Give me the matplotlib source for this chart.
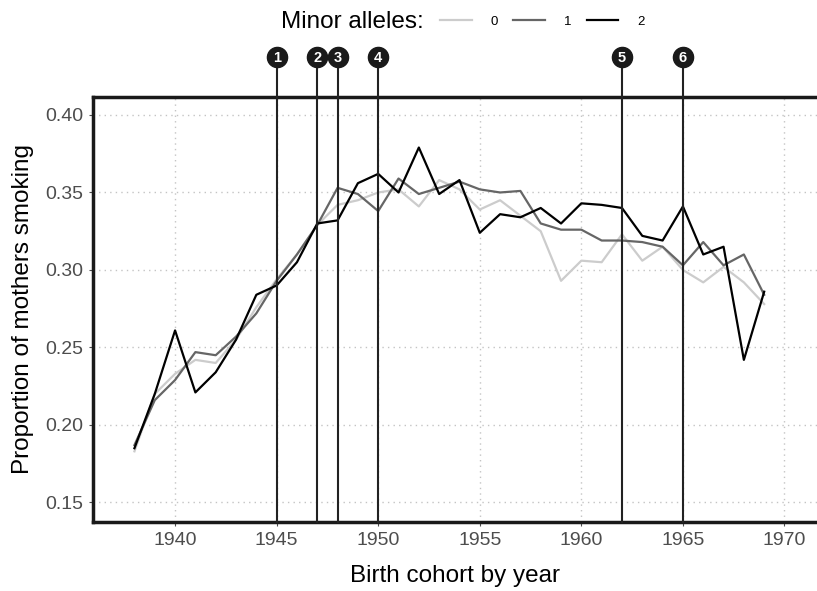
import numpy as np
import matplotlib
matplotlib.use('Agg')
from matplotlib import pyplot as plt
import matplotlib.transforms as mtransforms

# Birth cohort years
years = list(range(1938, 1970))

# Proportion of mothers smoking, by number of minor alleles
smoke_0 = [0.183, 0.220, 0.233, 0.242, 0.240, 0.255, 0.276, 0.294, 0.310, 0.329,
           0.342, 0.345, 0.350, 0.352, 0.341, 0.358, 0.352, 0.339, 0.345, 0.335,
           0.325, 0.293, 0.306, 0.305, 0.323, 0.306, 0.315, 0.300, 0.292, 0.302,
           0.292, 0.278]
smoke_1 = [0.187, 0.216, 0.229, 0.247, 0.245, 0.257, 0.272, 0.293, 0.310, 0.329,
           0.353, 0.349, 0.338, 0.359, 0.349, 0.353, 0.357, 0.352, 0.350, 0.351,
           0.330, 0.326, 0.326, 0.319, 0.319, 0.318, 0.315, 0.303, 0.318, 0.303,
           0.310, 0.284]
smoke_2 = [0.185, 0.220, 0.261, 0.221, 0.234, 0.255, 0.284, 0.290, 0.305, 0.330,
           0.332, 0.356, 0.362, 0.350, 0.379, 0.349, 0.358, 0.324, 0.336, 0.334,
           0.340, 0.330, 0.343, 0.342, 0.340, 0.322, 0.319, 0.341, 0.310, 0.315,
           0.242, 0.286]

series_labels = ['0', '1', '2']
series_colors = ['#cccccc', '#666666', '#000000']

# Annotated event years
event_years = [1945, 1947, 1948, 1950, 1962, 1965]
event_labels = ['1', '2', '3', '4', '5', '6']

x_ticks = [1940, 1945, 1950, 1955, 1960, 1965, 1970]
y_ticks = [0.15, 0.20, 0.25, 0.30, 0.35, 0.40]

plt.rcParams['font.family'] = ['Liberation Sans', 'DejaVu Sans']

fig = plt.figure(figsize=(8.17, 5.91), dpi=100)
ax = fig.add_axes([93/817, 1 - 522/591, 1 - 93/817, (522 - 97)/591])

handles = []
for vals, lab, col in zip([smoke_0, smoke_1, smoke_2], series_labels, series_colors):
    h, = ax.plot(years, vals, color=col, lw=1.6, label=lab, zorder=3)
    handles.append(h)

# vertical event lines with numbered circles above the panel
trans = mtransforms.blended_transform_factory(ax.transData, ax.transAxes)
for yr, lab in zip(event_years, event_labels):
    ax.plot([yr, yr], [0, 1.094], color='#222222', lw=1.5, transform=trans,
            clip_on=False, zorder=4)
    ax.plot(yr, 1.094, 'o', ms=14.5, color='#1a1a1a', transform=trans,
            clip_on=False, zorder=5)
    ax.text(yr, 1.092, lab, color='white', fontsize=10.5, fontweight='bold',
            ha='center', va='center', transform=trans, zorder=6)

ax.set_xlim(1935.96, 1971.6)
ax.set_ylim(0.1374, 0.4116)
ax.set_xticks(x_ticks)
ax.set_yticks(y_ticks)
ax.set_yticklabels(['%.2f' % v for v in y_ticks])
ax.grid(True, color='#c4c4c4', ls=(0, (1, 3)), lw=1)
ax.set_axisbelow(True)
ax.tick_params(colors='#4d4d4d', labelsize=14, length=3, width=0.8, pad=4)

ax.spines['right'].set_visible(False)
for side in ['top', 'bottom', 'left']:
    ax.spines[side].set_linewidth(2.5)
    ax.spines[side].set_color('#1a1a1a')

ax.set_xlabel('Birth cohort by year', fontsize=17.5, labelpad=12)
ax.set_ylabel('Proportion of mothers smoking', fontsize=17.5, labelpad=8)

fig.text(424/817, 1 - 22/591, 'Minor alleles:', fontsize=17.5, ha='right', va='center')
fig.legend(handles=handles, loc='center left', bbox_to_anchor=(440/817, 1 - 22/591),
           ncol=3, frameon=False, fontsize=9.5, handlelength=2.4, handletextpad=1.4,
           columnspacing=1.2, borderaxespad=0, borderpad=0)

fig.savefig('out.png', dpi=100)
